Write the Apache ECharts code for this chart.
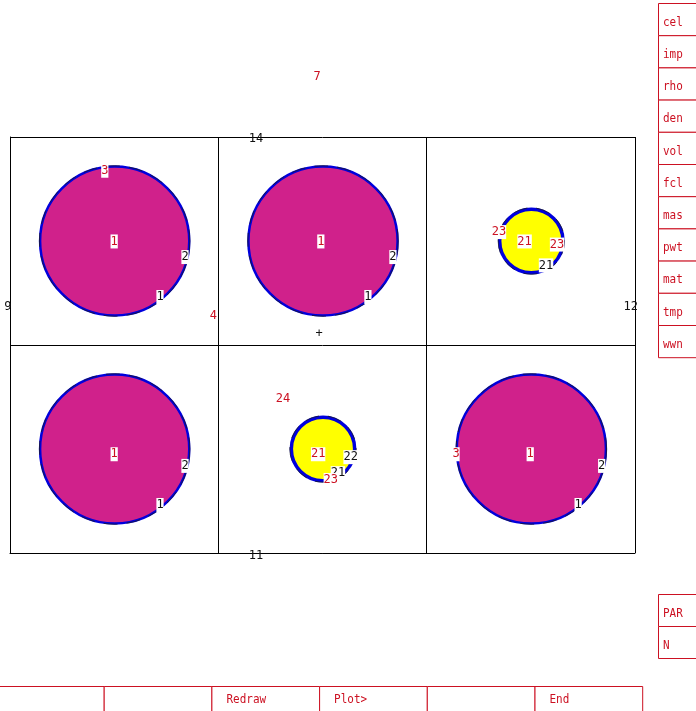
<!DOCTYPE html>
<html><head><meta charset="utf-8">
<style>html,body{margin:0;padding:0;background:#fff}#c{width:696px;height:711px}</style>
<script src="https://cdn.jsdelivr.net/npm/echarts@6/dist/echarts.min.js"></script>
</head><body><div id="c"></div>
<script>
// Mesh cells, in panel units (3 columns x 2 rows)
const discs = [[0.5,1.5,0.358,'#d0218b'],[1.5,1.5,0.358,'#d0218b'],[2.5,1.5,0.152,'#ffff00'],
               [0.5,0.5,0.358,'#d0218b'],[1.5,0.5,0.152,'#ffff00'],[2.5,0.5,0.358,'#d0218b']];
const redLabels = [['7',1.474,2.295],['4',0.976,1.145],['24',1.31,0.746]];
const blackLabels = [['14',1.181,1.998],['11',1.181,-0.008],['12',2.98,1.192],['9',-0.01,1.192],['+',1.484,1.062]];
const boxedRed = [['1',0.5,1.505],['3',0.455,1.845],['1',1.492,1.505],['1',0.5,0.482],['1',2.497,0.482],['3',2.141,0.482],
                  ['21',2.47,1.505],['23',2.626,1.49],['21',1.479,0.482],['23',1.54,0.358],['23',2.347,1.55]];
const boxedBlack = [['2',0.84,1.43],['1',0.72,1.238],['2',1.838,1.43],['1',1.718,1.238],['2',0.84,0.426],['1',0.72,0.238],
                    ['2',2.84,0.426],['1',2.727,0.238],['21',2.573,1.39],['22',1.635,0.468],['21',1.574,0.391]];
const sideButtons = ['cel','imp','rho','den','vol','fcl','mas','pwt','mat','tmp','wwn'];
const parButtons = ['PAR','N'];
const bottomButtons = ['','','Redraw','Plot>','','End'];

const MONO = '"DejaVu Sans Mono","Liberation Mono",monospace';
const RED = '#cc1122';
const gfx = [];
function btn(x,y,w,h,t,open){
  gfx.push({type:'rect',shape:{x:x+.5,y:y+.5,width:w,height:h},style:{fill:'#fff',stroke:RED,lineWidth:1,opacity:1}});
  if(t) gfx.push({type:'text',x:x+(open?15:5),y:y+(open?14:19.5),scaleY:1.15,style:{text:t,fill:RED,font:'11px '+MONO,textVerticalAlign:'middle'}});
}
sideButtons.forEach((t,i)=>btn(658,3+i*32.2,46,32.2,t));
parButtons.forEach((t,i)=>btn(658,594+i*32,46,32,t));
bottomButtons.forEach((t,i)=>btn(-4+i*107.7,686,107.7,40,t,true));

function textSeries(name,rows,color,bg){
  return {type:'scatter',name,symbolSize:1,z:6,clip:false,silent:true,
    itemStyle:{opacity:0},
    data:rows.map(r=>({value:[r[1],r[2]],label:{formatter:r[0]}})),
    label:{show:true,position:'inside',opacity:1,color,fontFamily:MONO,fontSize:12,offset:[0,1.5],
      backgroundColor:bg||'transparent',padding:bg?[1,0,0,0]:0,lineHeight:13}};
}
const chart = echarts.init(document.getElementById('c'),null,{renderer:'canvas'});
chart.setOption({
  animation:false,backgroundColor:'#fff',
  grid:{left:10,top:137,width:625,height:416,containLabel:false},
  xAxis:{type:'value',min:0,max:3,interval:1,axisLine:{show:true,onZero:false,lineStyle:{color:'#000'}},axisTick:{show:false},axisLabel:{show:false},
    splitLine:{show:true,lineStyle:{color:'#000',width:1}}},
  yAxis:{type:'value',min:0,max:2,interval:1,axisLine:{show:true,onZero:false,lineStyle:{color:'#000'}},axisTick:{show:false},axisLabel:{show:false},
    splitLine:{show:true,lineStyle:{color:'#000',width:1}}},
  graphic:{elements:gfx},
  series:[
    {type:'custom',coordinateSystem:'cartesian2d',clip:false,z:3,silent:true,
     data:discs.map(d=>({value:[d[0],d[1],d[2]],color:d[3]})),
     encode:{x:0,y:1},
     renderItem(params,api){
       const c=api.coord([api.value(0),api.value(1)]);
       const r=api.size([api.value(2),0])[0];
       const d=discs[params.dataIndex];
       return {type:'group',children:[
         {type:'circle',shape:{cx:c[0]+.5,cy:c[1],r:r},style:{fill:d[3],stroke:'#0000dd',lineWidth:r>50?2.5:3.5}},
         {type:'circle',shape:{cx:c[0]+.5,cy:c[1],r:r+(r>50?.6:1.5)},style:{fill:'none',stroke:'rgba(30,30,30,.75)',lineWidth:1,lineDash:[14,9]}}
       ]};
     }},
    textSeries('red',redLabels,RED),
    textSeries('black',blackLabels,'#111'),
    textSeries('boxedBlack',boxedBlack,'#111','#fff'),
    textSeries('boxedRed',boxedRed,RED,'#fff')
  ]
});
</script></body></html>
